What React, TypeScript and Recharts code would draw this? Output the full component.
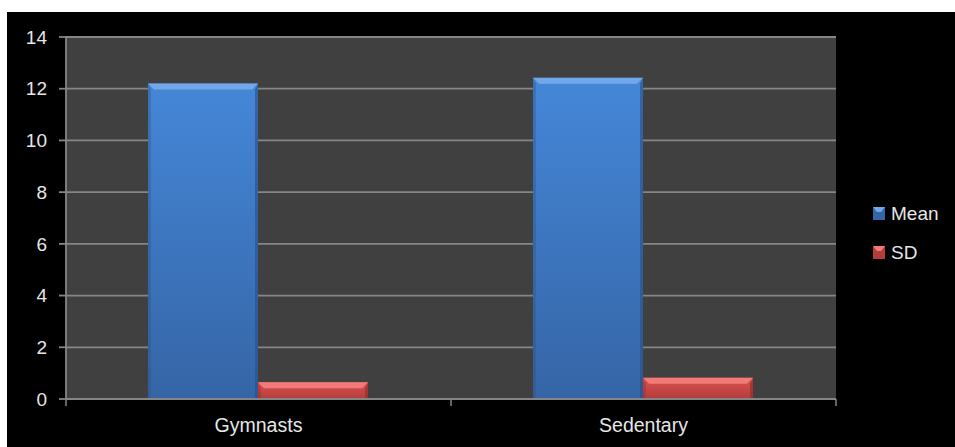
import { BarChart, Bar, XAxis, YAxis, CartesianGrid, Legend } from 'recharts'

const categories = ['Gymnasts', 'Sedentary']
const meanValues = [12.2, 12.42]
const sdValues = [0.65, 0.82]
const yTicks = [0, 2, 4, 6, 8, 10, 12, 14]

const series = [
  { key: 'Mean', values: meanValues, top: '#4587d8', bottom: '#3565a6', bevel: '#72a8ea', edge: '#2a4f85' },
  { key: 'SD', values: sdValues, top: '#db5250', bottom: '#b23d3b', bevel: '#f27a78', edge: '#8a2c2a' },
]

const data = categories.map((name, i) => ({
  name,
  Mean: meanValues[i],
  SD: sdValues[i],
}))

const FONT = '"Liberation Sans", Arial, sans-serif'
const TEXT = '#e6e6e6'
const GRID = '#868686'

function makeShape(s: typeof series[number]) {
  return (props: any) => {
    const { x, y, width, height } = props
    if (!height || height <= 0) return <g />
    const b = Math.min(6, height / 2.5)
    return (
      <g>
        <rect x={x} y={y} width={width} height={height} fill={`url(#grad-${s.key})`} />
        <polygon
          points={`${x},${y} ${x + width},${y} ${x + width - b},${y + b} ${x + b},${y + b}`}
          fill={s.bevel}
        />
        <polygon
          points={`${x},${y} ${x + b * 0.5},${y + b} ${x + b * 0.5},${y + height} ${x},${y + height}`}
          fill={s.edge}
          opacity={0.35}
        />
        <polygon
          points={`${x + width},${y} ${x + width - b * 0.5},${y + b} ${x + width - b * 0.5},${y + height} ${x + width},${y + height}`}
          fill={s.edge}
          opacity={0.6}
        />
      </g>
    )
  }
}

function CategoryTick(props: any) {
  const { x, y, payload } = props
  const half = payload?.offset ?? 0
  const axisY = y - 19
  return (
    <g>
      <line x1={x - half} y1={axisY} x2={x - half} y2={axisY + 7} stroke={GRID} strokeWidth={1.5} />
      {payload.index === categories.length - 1 && (
        <line x1={x + half} y1={axisY} x2={x + half} y2={axisY + 7} stroke={GRID} strokeWidth={1.5} />
      )}
      <text x={x} y={y} dy="0.71em" textAnchor="middle" fill={TEXT} fontSize={19.5} fontFamily={FONT}>
        {payload.value}
      </text>
    </g>
  )
}

function LegendContent() {
  return (
    <div style={{ fontFamily: FONT, fontSize: 19, color: TEXT }}>
      {series.map((s) => (
        <div key={s.key} style={{ display: 'flex', alignItems: 'center', height: 39 }}>
          <svg width={12} height={13} style={{ marginRight: 6 }}>
            <rect x={0} y={0} width={12} height={13} fill={s.bottom} />
            <polygon points="0,0 12,0 8,5 4,5" fill={s.bevel} />
          </svg>
          <span>{s.key}</span>
        </div>
      ))}
    </div>
  )
}

export default function App() {
  return (
    <div style={{ position: 'absolute', left: 0, top: 0, width: 955, height: 447, background: '#fff' }}>
      <div style={{ position: 'absolute', left: 7, top: 12, width: 948, height: 435, background: '#000' }}>
        <BarChart
          width={948}
          height={435}
          data={data}
          margin={{ top: 25, right: 119, left: 0, bottom: 0 }}
          barCategoryGap="21.3%"
          barGap={0}
        >
          <defs>
            {series.map((s) => (
              <linearGradient key={s.key} id={`grad-${s.key}`} x1="0" y1="0" x2="0" y2="1">
                <stop offset="0%" stopColor={s.top} />
                <stop offset="100%" stopColor={s.bottom} />
              </linearGradient>
            ))}
          </defs>
          <CartesianGrid vertical={false} fill="#404040" stroke={GRID} strokeWidth={1.8} fillOpacity={1} />
          <XAxis
            dataKey="name"
            height={48}
            axisLine={{ stroke: GRID, strokeWidth: 1.8 }}
            tickLine={false}
            tickSize={0}
            tickMargin={19}
            tick={<CategoryTick />}
            interval={0}
          />
          <YAxis
            width={59}
            domain={[0, 14]}
            ticks={yTicks}
            interval={0}
            axisLine={{ stroke: GRID, strokeWidth: 1.8 }}
            tickLine={{ stroke: GRID, strokeWidth: 1.8 }}
            tickSize={7}
            tickMargin={12}
            tick={{ fill: TEXT, fontSize: 19, fontFamily: FONT }}
          />
          <Legend
            layout="vertical"
            align="center"
            verticalAlign="middle"
            content={<LegendContent />}
            wrapperStyle={{ position: 'absolute', left: 866, top: 182, width: 80 }}
          />
          {series.map((s) => (
            <Bar key={s.key} dataKey={s.key} fill={s.top} shape={makeShape(s)} isAnimationActive={false} />
          ))}
        </BarChart>
      </div>
    </div>
  )
}
